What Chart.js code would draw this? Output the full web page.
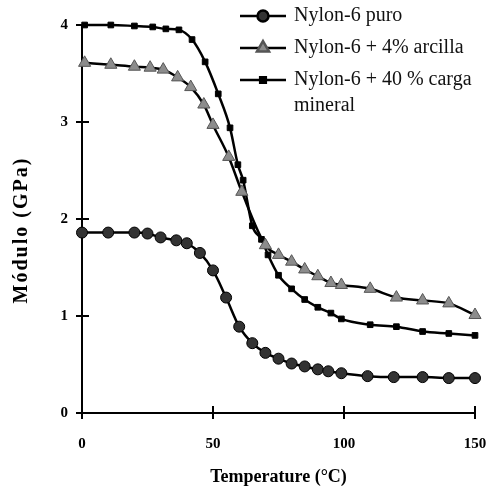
<!DOCTYPE html>
<html>
<head>
<meta charset="utf-8">
<script src="https://cdn.jsdelivr.net/npm/chart.js@4/dist/chart.umd.min.js"></script>
<style>
  html, body { margin: 0; padding: 0; background: #fff; }
  #wrap { width: 488px; height: 491px; }
</style>
</head>
<body>
<div id="wrap"><canvas id="moduloChart" width="488" height="491"></canvas></div>
<script>
// Temperatura (°C) y módulo (GPa) de cada material
const tempPuro = [0, 10, 20, 25, 30, 36, 40, 45, 50, 55, 60, 65, 70, 75, 80, 85, 90, 94, 99, 109, 119, 130, 140, 150];
const modPuro = [1.86, 1.86, 1.86, 1.85, 1.81, 1.78, 1.75, 1.65, 1.47, 1.19, 0.89, 0.72, 0.62, 0.56, 0.51, 0.48, 0.45, 0.43, 0.41, 0.38, 0.37, 0.37, 0.36, 0.36];

const tempArcilla = [1, 11, 20, 26, 31, 36.5, 41.5, 46.5, 50, 56, 61, 70, 75, 80, 85, 90, 95, 99, 110, 120, 130, 140, 150];
const modArcilla = [3.61, 3.59, 3.57, 3.56, 3.54, 3.46, 3.36, 3.18, 2.97, 2.64, 2.28, 1.73, 1.63, 1.56, 1.48, 1.41, 1.34, 1.32, 1.28, 1.19, 1.16, 1.13, 1.01];

const tempCarga = [1, 11, 20, 27, 32, 37, 42, 47, 52, 56.5, 59.5, 61.5, 65, 68.5, 71, 75, 80, 85, 90, 95, 99, 110, 120, 130, 140, 150];
const modCarga = [4.0, 4.0, 3.99, 3.98, 3.96, 3.95, 3.85, 3.62, 3.29, 2.94, 2.56, 2.40, 1.93, 1.79, 1.63, 1.42, 1.28, 1.17, 1.09, 1.03, 0.97, 0.91, 0.89, 0.84, 0.82, 0.80];

const xTicks = [0, 50, 100, 150];
const yTicks = [0, 1, 2, 3, 4];

const legendLabels = [
    ['Nylon-6 puro'],
    ['Nylon-6 + 4% arcilla'],
    ['Nylon-6 + 40 % carga', 'mineral']
];
const yTitle = 'Módulo (GPa)';

function toPoints(xs, ys) {
    return xs.map((x, i) => ({ x: x, y: ys[i] }));
}

const serif = '"Liberation Serif", "DejaVu Serif", serif';

// ejes con marcas que cruzan la línea
const crossTicks = {
    id: 'crossTicks',
    afterDraw(chart) {
        const ctx = chart.ctx;
        const xs = chart.scales.x, ys = chart.scales.y;
        ctx.save();
        ctx.strokeStyle = '#000';
        ctx.lineWidth = 2;
        ctx.beginPath();
        yTicks.forEach(v => {
            const py = ys.getPixelForValue(v);
            ctx.moveTo(xs.left - 6, py);
            ctx.lineTo(xs.left + 7, py);
        });
        xTicks.forEach(v => {
            const px = xs.getPixelForValue(v);
            ctx.moveTo(px, ys.bottom - 7);
            ctx.lineTo(px, ys.bottom + 6);
        });
        ctx.stroke();
        ctx.restore();
    }
};

// título del eje Y, con letras espaciadas
const spacedYTitle = {
    id: 'spacedYTitle',
    afterDraw(chart) {
        const ctx = chart.ctx;
        ctx.save();
        ctx.translate(22, 230);
        ctx.rotate(-Math.PI / 2);
        ctx.font = 'bold 20px ' + serif;
        ctx.letterSpacing = '2px';
        ctx.fillStyle = '#000';
        ctx.textAlign = 'center';
        ctx.textBaseline = 'middle';
        ctx.fillText(yTitle, 0, 0);
        ctx.restore();
    }
};

// leyenda en la esquina superior derecha
const cornerLegend = {
    id: 'cornerLegend',
    afterDraw(chart) {
        const ctx = chart.ctx;
        const rows = [16, 48, 80];
        ctx.save();
        chart.data.datasets.forEach((ds, i) => {
            const y = rows[i];
            ctx.strokeStyle = '#000';
            ctx.lineWidth = 2.5;
            ctx.beginPath();
            ctx.moveTo(240, y);
            ctx.lineTo(286, y);
            ctx.stroke();
            ctx.fillStyle = ds.pointBackgroundColor;
            ctx.strokeStyle = ds.pointBorderColor;
            Chart.helpers.drawPoint(ctx, {
                pointStyle: ds.pointStyle,
                radius: ds.pointRadius,
                rotation: 0,
                borderWidth: ds.pointBorderWidth
            }, 263, y);
            ctx.fillStyle = '#111';
            ctx.font = '20px ' + serif;
            ctx.textBaseline = 'middle';
            legendLabels[i].forEach((line, j) => {
                ctx.fillText(line, 294, y + j * 26);
            });
        });
        ctx.restore();
    }
};

const ctx = document.getElementById('moduloChart').getContext('2d');

const moduloChart = new Chart(ctx, {
    type: 'line',
    data: {
        datasets: [{
            label: 'Nylon-6 puro',
            data: toPoints(tempPuro, modPuro),
            borderColor: '#000',
            borderWidth: 2.5,
            pointStyle: 'circle',
            pointRadius: 5.5,
            pointBackgroundColor: '#333',
            pointBorderColor: '#000',
            pointBorderWidth: 1
        }, {
            label: 'Nylon-6 + 4% arcilla',
            data: toPoints(tempArcilla, modArcilla),
            borderColor: '#000',
            borderWidth: 2.5,
            pointStyle: 'triangle',
            pointRadius: 7,
            pointBackgroundColor: '#8c8c8c',
            pointBorderColor: '#555',
            pointBorderWidth: 1
        }, {
            label: 'Nylon-6 + 40 % carga mineral',
            data: toPoints(tempCarga, modCarga),
            borderColor: '#000',
            borderWidth: 2.5,
            pointStyle: 'rect',
            pointRadius: 4,
            pointBackgroundColor: '#000',
            pointBorderColor: '#000',
            pointBorderWidth: 1
        }]
    },
    options: {
        responsive: false,
        animation: false,
        clip: false,
        cubicInterpolationMode: 'monotone',
        layout: { padding: { left: 0, right: 13, top: 25, bottom: 0 } },
        plugins: {
            legend: { display: false },
            tooltip: { enabled: false }
        },
        scales: {
            x: {
                type: 'linear',
                min: 0,
                max: 150,
                afterBuildTicks: scale => { scale.ticks = xTicks.map(v => ({ value: v })); },
                afterFit: scale => {
                    scale.height = 78;
                    scale.paddingLeft = 0;
                    scale.paddingRight = 0;
                },
                grid: { display: false },
                border: { display: true, color: '#000', width: 2 },
                ticks: {
                    color: '#000',
                    padding: 14,
                    maxRotation: 0,
                    font: { family: serif, size: 15, weight: 'bold' }
                },
                title: {
                    display: true,
                    text: 'Temperature (°C)',
                    color: '#000',
                    padding: { top: 3, bottom: 3 },
                    font: { family: serif, size: 18, weight: 'bold' }
                }
            },
            y: {
                min: 0,
                max: 4,
                afterBuildTicks: scale => { scale.ticks = yTicks.map(v => ({ value: v })); },
                afterFit: scale => {
                    scale.width = 82;
                    scale.paddingTop = 0;
                    scale.paddingBottom = 0;
                },
                grid: { display: false },
                border: { display: true, color: '#000', width: 2 },
                ticks: {
                    color: '#000',
                    padding: 6,
                    font: { family: serif, size: 15, weight: 'bold' }
                },
                title: { display: false }
            }
        }
    },
    plugins: [crossTicks, spacedYTitle, cornerLegend]
});
</script>
</body>
</html>
